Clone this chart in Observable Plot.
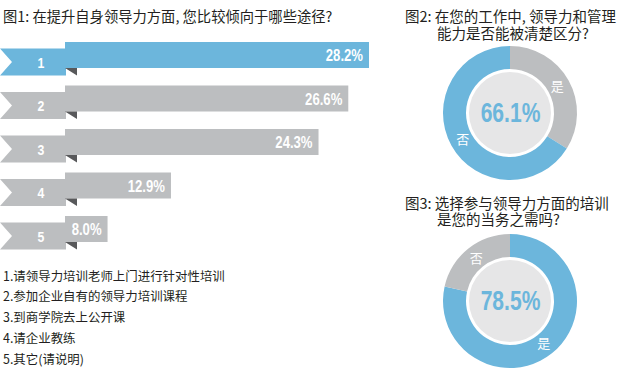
<!DOCTYPE html>
<html><head><meta charset="utf-8">
<script src="https://cdn.jsdelivr.net/npm/d3@7"></script>
<script src="https://cdn.jsdelivr.net/npm/@observablehq/plot@0.6"></script>
<style>
body{margin:0;background:#fff;}
#root{position:relative;width:620px;height:371px;overflow:hidden;font-family:"Noto Sans CJK SC","Noto Sans",sans-serif;color:#231f20;}
.abs{position:absolute;}
.t1{font-size:14.3px;line-height:17px;white-space:nowrap;}
.t{font-size:14.5px;line-height:17px;white-space:nowrap;}
.legend{font-size:12.45px;line-height:20.8px;white-space:nowrap;}
</style></head><body><div id="root"></div>
<script>
// ---- data ----
const categories = ["1", "2", "3", "4", "5"];
const shares = [28.2, 26.6, 24.3, 12.9, 8.0];
const optionLabels = [
  "1.请领导力培训老师上门进行针对性培训",
  "2.参加企业自有的领导力培训课程",
  "3.到商学院去上公开课",
  "4.请企业教练",
  "5.其它(请说明)"
];
const title1 = "图1: 在提升自身领导力方面, 您比较倾向于哪些途径?";
const title2 = ["图2: 在您的工作中, 领导力和管理", "能力是否能被清楚区分?"];
const title3 = ["图3: 选择参与领导力方面的培训", "是您的当务之需吗?"];
const q2Labels = ["是", "否"];
const q2Values = [33.9, 66.1];
const q3Labels = ["是", "否"];
const q3Values = [78.5, 21.5];

const BLUE = "#6cb6dc", GRAY = "#bcbec0", FOLD = "#58595b", DISC = "#e6e6e7";
const NUMFONT = '"Liberation Sans",Arial,sans-serif';
const CJK = '"Noto Sans CJK SC","Noto Sans",sans-serif';

const root = document.getElementById("root");
function place(el, left, top) {
  const d = document.createElement("div");
  d.className = "abs"; d.style.left = left + "px"; d.style.top = top + "px";
  d.appendChild(el); root.appendChild(d); return d;
}
function textDiv(cls, html) { const d = document.createElement("div"); d.className = cls; d.innerHTML = html; return d; }
function bw(s) { return typeof s.bandwidth === "function" ? s.bandwidth() : s.bandwidth; }
// narrow the bold numeric labels (emulates a condensed face)
function condense(svg, selector, k) {
  svg.querySelectorAll(selector).forEach(t => {
    const tr = t.getAttribute("transform");
    if (tr && tr.includes("translate")) {
      t.setAttribute("transform", tr + ` scale(${k},1)`);
    } else {
      const x = +(t.getAttribute("x") || 0), y = +(t.getAttribute("y") || 0);
      t.removeAttribute("x"); t.removeAttribute("y");
      t.setAttribute("transform", `${tr || ""} translate(${x},${y}) scale(${k},1)`);
    }
  });
}

// ---- titles ----
place(textDiv("t1", title1), 3, 6.5);
place(textDiv("t", title2[0]), 405, 6.5);
place(textDiv("t", title2[1]), 437, 23.5);
place(textDiv("t", title3[0]), 405, 193.5);
place(textDiv("t", title3[1]), 437, 210);

// ---- legend ----
place(textDiv("legend", optionLabels.join("<br>")), 3, 265.6);

// ---- bar ribbons ----
const bars = categories.map((c, i) => ({label: c, value: shares[i]}));
const chart1 = Plot.plot({
  width: 380, height: 250, margin: 0,
  style: {background: "transparent", overflow: "visible"},
  x: {domain: [0, d3.max(shares)], range: [4, 369], axis: null},
  y: {domain: categories, range: [42, 242], paddingInner: 0.4023, paddingOuter: 0, round: false, axis: null},
  color: {domain: categories, range: [BLUE, GRAY, GRAY, GRAY, GRAY]},
  marks: [
    // ribbon tails
    (index, scales) => {
      const g = d3.create("svg:g");
      const x0 = scales.x(0), b = bw(scales.y);
      for (const d of bars) {
        const y = scales.y(d.label);
        const top = y + 6.5, bottom = y + b + 7.5, mid = (top + bottom) / 2;
        const right = x0 + 62;
        g.append("path")
          .attr("d", `M0,${top}L${right},${top}L${right},${bottom}L0,${bottom}L12,${mid}Z`)
          .attr("fill", scales.color(d.label));
      }
      return g.node();
    },
    Plot.barX(bars, {x: "value", y: "label", fill: "label", insetLeft: 61}),
    // folds
    (index, scales) => {
      const g = d3.create("svg:g");
      const x0 = scales.x(0), b = bw(scales.y);
      for (const d of bars) {
        const yb = scales.y(d.label) + b;
        g.append("path")
          .attr("d", `M${x0 + 61},${yb}L${x0 + 73},${yb}L${x0 + 73},${yb + 7.5}Z`)
          .attr("fill", FOLD);
      }
      return g.node();
    },
    Plot.text(bars, {y: "label", frameAnchor: "left", dx: 37, dy: 7.5, text: "label",
      fill: "white", fontSize: 15, fontWeight: "bold", fontFamily: NUMFONT}),
    Plot.text(bars, {x: "value", y: "label", text: d => d.value.toFixed(1) + "%", textAnchor: "end",
      dx: -6.5, dy: 0.5, fill: "white", fontSize: 16, fontWeight: "bold", fontFamily: NUMFONT})
  ]
});
condense(chart1, "text", 0.82);
place(chart1, 0, 0);

// ---- donuts ----
function donut(labels, values, colors, highlight) {
  let acc = 0;
  const rows = labels.map((l, i) => ({label: l, value: values[i], start: acc, end: (acc += values[i])}));
  const svg = Plot.plot({
    width: 140, height: 140, margin: 0,
    style: {background: "transparent", overflow: "visible"},
    x: {domain: [0, 100], range: [0, 2 * Math.PI], axis: null},
    color: {domain: labels, range: colors},
    marks: [
      Plot.tickX(rows, {x: "end", stroke: "label", strokeOpacity: 0}),
      (index, scales, vals, dims) => {
        const g = d3.create("svg:g").attr("transform", `translate(${dims.width / 2},${dims.height / 2})`);
        const arc = d3.arc().innerRadius(44).outerRadius(67);
        const lab = d3.arc().innerRadius(44).outerRadius(64);
        for (const d of rows) {
          const a = {startAngle: scales.x(d.start), endAngle: scales.x(d.end)};
          g.append("path").attr("d", arc(a)).attr("fill", scales.color(d.label));
          const [cx, cy] = lab.centroid(a);
          g.append("text").attr("x", cx).attr("y", cy).attr("dy", "0.35em")
            .attr("text-anchor", "middle").attr("fill", "white")
            .attr("font-size", 13).attr("font-family", CJK).text(d.label);
        }
        g.append("circle").attr("r", 41).attr("fill", DISC);
        return g.node();
      },
      Plot.text([values[highlight]], {frameAnchor: "middle", text: d => d.toFixed(1) + "%",
        fill: BLUE, fontSize: 27, fontWeight: "bold", fontFamily: NUMFONT})
    ]
  });
  // condense only the big centre value (last text in the svg)
  const texts = svg.querySelectorAll("text");
  const big = texts[texts.length - 1];
  big.setAttribute("data-big", "1");
  condense(svg, "text[data-big]", 0.78);
  return svg;
}
place(donut(q2Labels, q2Values, [GRAY, BLUE], 1), 439.5, 42.5);
place(donut(q3Labels, q3Values, [BLUE, GRAY], 0), 439.5, 230.5);
</script></body></html>
